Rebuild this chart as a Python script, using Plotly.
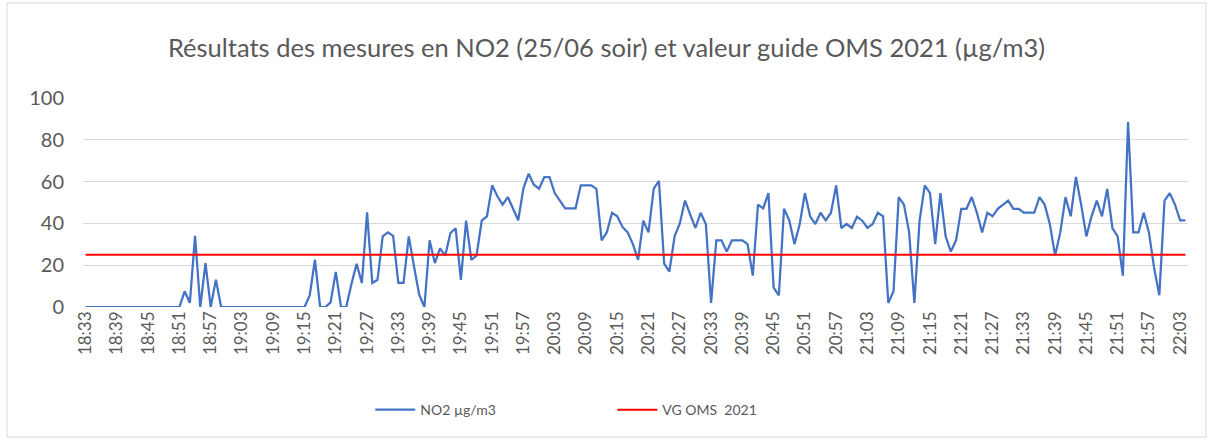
import plotly.graph_objects as go

start_h, start_m = 18, 33
no2 = [
    0, 0, 0, 0, 0, 0, 0, 0, 0, 0, 0, 0, 0, 0, 0, 0, 0, 0, 0,
    7.5, 2, 34, 0, 21, 0, 13,
    0, 0, 0, 0, 0, 0, 0, 0, 0, 0, 0, 0, 0, 0, 0, 0, 0,
    5.5, 22.6, 0, 0, 2.2, 16.8, 0, 0, 11, 20.7, 11.5, 45.3, 11.5, 13, 33.8, 35.7, 34,
    11.5, 11.5, 33.8, 19.5, 5.9, 0, 31.9, 21, 28, 24.6, 35.4, 37.6, 13, 41.3, 22.6,
    24.6, 41.3, 43.4, 58.2, 53, 49, 52.6, 46.9, 41.5, 56.8, 63.8, 58.5, 56.6, 62.2,
    62.2, 54.5, 50.9, 47.2, 47.2, 47.2, 58.2, 58.2, 58.2, 56.5, 31.9, 35.7, 45.1,
    43.4, 38.3, 35.7, 30.1, 22.6, 41.3, 35.7, 56.6, 60.3, 20.7, 16.9, 33.8, 40,
    50.9, 44.2, 37.8, 45.1, 39.6, 1.9, 31.9, 31.9, 26.5, 31.9, 31.9, 31.9, 30.1,
    15, 49, 47.2, 54.5, 9.3, 5.6, 47, 41.5, 30.1, 39.6, 54.5, 43.4, 39.7, 45.1,
    41.5, 45.1, 58.2, 37.8, 39.7, 37.8, 43.2, 41.3, 37.8, 39.7, 45.1, 43.4, 1.9,
    7.5, 52.6, 49, 35.7, 1.9, 41.3, 58.2, 54.5, 30.1, 54.5, 33.8, 26.5, 31.9, 47,
    47, 52.6, 45.1, 35.7, 45.1, 43.4, 47, 49, 50.9, 47, 47, 45.1, 45.1, 45.1,
    52.6, 49, 39.6, 24.7, 35.7, 52.6, 43.4, 62.2, 49, 33.8, 43.4, 50.9, 43.4,
    56.5, 37.8, 33.8, 15, 88.5, 35.7, 35.7, 45.1, 35.7, 18.7, 5.6, 50.9, 54.5,
    49, 41.5, 41.5,
]
vg_oms = 25

times = []
for k in range(len(no2)):
    t = start_h * 60 + start_m + k
    times.append(f"{t // 60:02d}:{t % 60:02d}")
tick_labels = times[::6]
vg = [vg_oms] * len(times)

FONT = "Lato, Noto Sans, sans-serif"
GREY = "#595959"

fig = go.Figure()
fig.add_trace(go.Scatter(x=times, y=no2, mode="lines", name="NO2 µg/m3",
                         line=dict(color="#4472C4", width=2.25), legend="legend"))
fig.add_trace(go.Scatter(x=times, y=vg, mode="lines", name="VG OMS  2021",
                         line=dict(color="#FF0000", width=2), legend="legend2"))

leg_common = dict(orientation="h", xanchor="left", yanchor="middle", y=-0.493,
                  font=dict(size=14, color=GREY, family=FONT), itemwidth=40,
                  bgcolor="rgba(0,0,0,0)")
fig.update_layout(
    width=1213, height=441,
    margin=dict(l=83, r=25, t=98, b=134),
    paper_bgcolor="white", plot_bgcolor="white",
    font=dict(family=FONT, color=GREY),
    title=dict(text="Résultats des mesures en NO2 (25/06 soir) et valeur guide OMS 2021 (µg/m3)",
               x=0.5, xanchor="center", y=1 - 48 / 441, yanchor="middle",
               font=dict(size=25.5, color=GREY, family=FONT)),
    legend=dict(x=0.26, **leg_common),
    legend2=dict(x=0.479, **leg_common),
    showlegend=True,
)
fig.update_xaxes(type="category", range=[-0.5, len(times) - 0.5],
                 tickmode="array", tickvals=tick_labels, ticktext=tick_labels,
                 tickangle=-90, tickfont=dict(size=17, color=GREY),
                 showgrid=False, showline=False, ticks="", zeroline=False)
fig.update_yaxes(range=[0, 100], dtick=20, tickfont=dict(size=20, color=GREY),
                 showgrid=True, gridcolor="#D9D9D9", gridwidth=1, zeroline=False,
                 ticks="", ticklen=0, showline=False, ticklabelstandoff=18)
fig.add_shape(type="rect", xref="paper", yref="paper",
              x0=(7 - 83) / 1105, x1=(1206 - 83) / 1105,
              y0=(307 - 437) / 209, y1=(307 - 3) / 209,
              line=dict(color="#D9D9D9", width=1), layer="below")
fig.write_html("out.html", config={"displayModeBar": False},
               post_script="document.body.style.margin='0';document.body.style.padding='0';")
